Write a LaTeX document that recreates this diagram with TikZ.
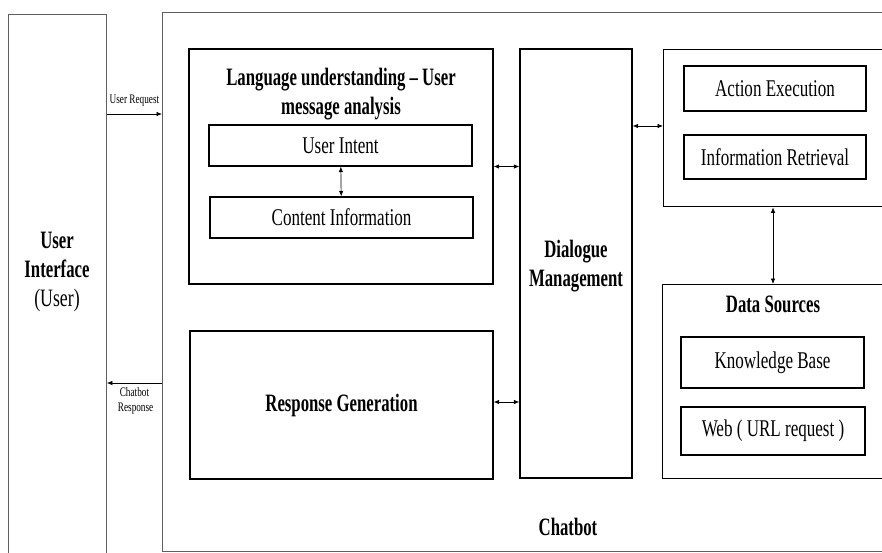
\documentclass[tikz,border=0pt]{standalone}
\usepackage{fontspec}
\setmainfont[FakeStretch=0.71,BoldFeatures={FakeStretch=0.67}]{Liberation Serif}
\usetikzlibrary{arrows.meta}

\begin{document}
\begin{tikzpicture}[x=1pt,y=-1pt,
        every node/.style={font=\fontsize{24}{28}\selectfont,inner sep=0pt},
        head/.style={font=\fontsize{25}{29}\selectfont\bfseries,align=center},
        box/.style={draw,line width=1.3pt},
        outer/.style={draw=gray!75!black,line width=0.9pt},
        small/.style={font=\fontsize{13}{15}\selectfont,align=center},
        link/.style={{Latex[length=5.5pt,width=4.5pt]}-{Latex[length=5.5pt,width=4.5pt]},line width=0.7pt},
        flow/.style={-{Latex[length=5.5pt,width=4.5pt]},line width=0.7pt}]
    \useasboundingbox (0,0) rectangle (882,552);

    % outer frames
    \node (ui) [outer,anchor=north west,minimum width=98,minimum height=560] at (8,14) {};
    \node (uitext) [head] at (57,272) {User\\Interface\\\mdseries(User)};
    \node (cb) [outer,anchor=north west,minimum width=740,minimum height=539] at (162,12) {};
    \node (cbtext) [head] at (568,527) {Chatbot};

    % language understanding
    \node (lang) [box,minimum width=304,minimum height=235] at (341,166.5) {};
    \node (langtitle) [head] at (341,94) {Language understanding -- User\\message analysis};
    \node (intent) [box,minimum width=263,minimum height=41] at (340.5,145.5) {User Intent};
    \node (content) [box,minimum width=263,minimum height=41] at (341.5,217.5) {Content Information};

    \node (resp) [box,minimum width=303,minimum height=148] at (341.5,405) {};
    \node (resptext) [head] at (341.5,405) {Response Generation};

    \node (dm) [box,minimum width=112,minimum height=429] at (576,263.5) {};
    \node (dmtext) [head] at (576,266) {Dialogue\\Management};

    % actions
    \node (tasks) [box,anchor=north west,minimum width=240,minimum height=157] at (663,49) {};
    \node (act) [box,minimum width=182,minimum height=45] at (775,88.5) {Action Execution};
    \node (info) [box,minimum width=182,minimum height=44] at (775,157) {Information Retrieval};

    % data sources
    \node (data) [box,anchor=north west,minimum width=240,minimum height=194] at (662,284) {};
    \node (datatitle) [head] at (773,304) {Data Sources};
    \node (kb) [box,minimum width=183,minimum height=51] at (772.5,362.5) {Knowledge Base};
    \node (web) [box,minimum width=184,minimum height=48] at (773,431) {Web ( URL request )};

    % connectors
    \draw[flow] (ui.east |- 0,114) -- node[small,above=7pt] (reqlabel) {User Request} (cb.west |- 0,114);
    \draw[flow] (cb.west |- 0,383) -- node[small,below=4pt] (resplabel) {Chatbot\\\ Response} (ui.east |- 0,383);
    \draw[link] (intent) -- (content);
    \draw[link] (lang.east) -- (lang.east -| dm.west);
    \draw[link] (resp.east |- 0,402) -- (dm.west |- 0,402);
    \draw[link] (dm.east |- 0,126) -- (tasks.west |- 0,126);
    \draw[link] (tasks.south -| 773,0) -- (data.north -| 773,0);
\end{tikzpicture}
\end{document}
